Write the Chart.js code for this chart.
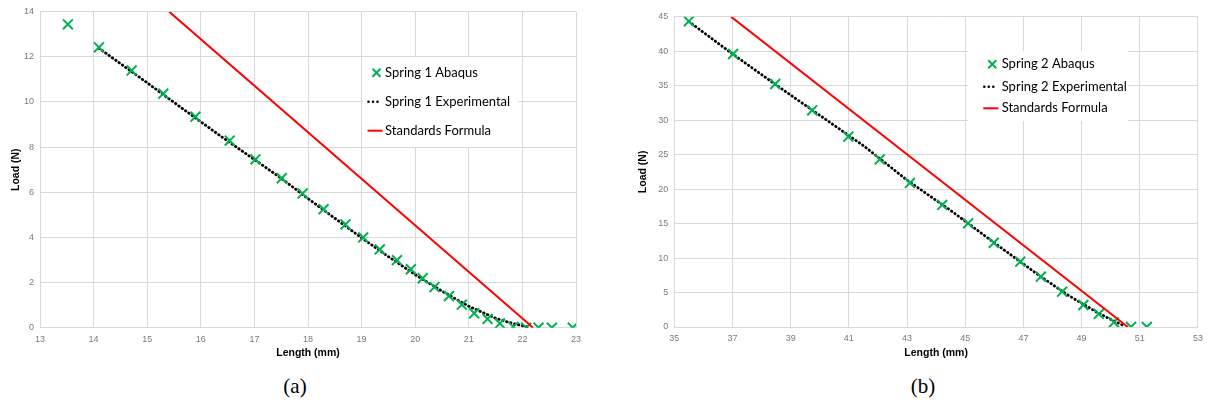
<!DOCTYPE html>
<html>
<head>
<meta charset="utf-8">
<script src="https://cdn.jsdelivr.net/npm/chart.js@4.4.0/dist/chart.umd.min.js"></script>
<style>
  body { margin: 0; background: #fff; width: 1209px; height: 405px; position: relative; overflow: hidden; }
  .wrap { position: absolute; top: 0; height: 365px; }
  .cap { position: absolute; top: 374px; font-family: "Liberation Serif", serif; font-size: 21px; color: #000; transform: translateX(-50%); }
</style>
</head>
<body>
<div class="wrap" style="left:0;width:600px"><canvas id="chartA"></canvas></div>
<div class="wrap" style="left:610px;width:599px"><canvas id="chartB"></canvas></div>
<div class="cap" style="left:295px">(a)</div>
<div class="cap" style="left:923px">(b)</div>
<script>
// Spring 1 (a)
const abaqus1X = [13.52, 14.10, 14.71, 15.30, 15.90, 16.54, 17.02, 17.51, 17.90, 18.29, 18.70, 19.03, 19.34, 19.66, 19.92, 20.14, 20.36, 20.63, 20.87, 21.10, 21.35, 21.58, 21.83, 22.07, 22.30, 22.55, 22.94];
const abaqus1Y = [13.44, 12.42, 11.40, 10.37, 9.35, 8.29, 7.46, 6.62, 5.95, 5.25, 4.58, 4.00, 3.47, 2.99, 2.59, 2.19, 1.80, 1.40, 1.02, 0.64, 0.39, 0.19, 0.04, 0, 0, 0, 0];
const exp1X = [14.10, 14.5, 15.0, 15.5, 16.0, 16.5, 17.0, 17.5, 18.0, 18.5, 19.0, 19.5, 20.0, 20.5, 21.0, 21.5, 21.8, 22.1];
const exp1Y = [12.38, 11.70, 10.85, 9.98, 9.12, 8.27, 7.45, 6.62, 5.72, 4.85, 3.98, 3.15, 2.35, 1.62, 0.95, 0.42, 0.20, 0.03];
const std1X = [15.41, 22.20];
const std1Y = [14, 0];

// Spring 2 (b)
const abaqus2X = [35.50, 37.02, 38.47, 39.74, 40.98, 42.06, 43.10, 44.21, 45.10, 45.98, 46.89, 47.60, 48.33, 49.06, 49.59, 50.11, 50.70, 51.24];
const abaqus2Y = [44.33, 39.59, 35.24, 31.42, 27.60, 24.30, 20.90, 17.70, 15.04, 12.22, 9.47, 7.30, 5.12, 3.19, 1.89, 0.68, 0, 0];
const exp2X = [35.5, 37.0, 38.5, 40.0, 41.5, 43.0, 44.5, 46.0, 47.5, 48.5, 49.5, 50.0, 50.5];
const exp2Y = [44.3, 39.6, 35.1, 30.7, 26.3, 21.3, 16.9, 12.2, 7.6, 4.7, 2.2, 1.1, 0.1];
const std2X = [36.95, 50.59];
const std2Y = [45, 0];

const GREEN = '#00B050';
const GRID = '#d9d9d9';
const TICK = '#7a7a7a';

function pts(xs, ys) {
    return xs.map((x, i) => ({ x: x, y: ys[i] }));
}

// legend drawn as a white box inside the plot area
const boxLegend = {
    id: 'boxLegend',
    afterDatasetsDraw(chart, args, opts) {
        const ctx = chart.ctx;
        const b = opts.box;
        ctx.save();
        ctx.fillStyle = '#fff';
        ctx.fillRect(b[0], b[1], b[2], b[3]);
        ctx.font = '13px Lato, "Open Sans", sans-serif';
        ctx.textBaseline = 'middle';
        chart.data.datasets.forEach((ds, i) => {
            const y = opts.rows[i];
            const x = opts.markX;
            if (i === 0) {
                ctx.strokeStyle = GREEN;
                ctx.lineWidth = 2;
                ctx.beginPath();
                ctx.moveTo(x - 4, y - 4); ctx.lineTo(x + 4, y + 4);
                ctx.moveTo(x - 4, y + 4); ctx.lineTo(x + 4, y - 4);
                ctx.stroke();
            } else if (i === 1) {
                ctx.fillStyle = '#000';
                [-8, -3.5, 1].forEach(dx => {
                    ctx.beginPath();
                    ctx.arc(x + dx, y, 1.3, 0, Math.PI * 2);
                    ctx.fill();
                });
            } else {
                ctx.strokeStyle = '#ff0000';
                ctx.lineWidth = 2;
                ctx.beginPath();
                ctx.moveTo(x - 9, y); ctx.lineTo(x + 6, y);
                ctx.stroke();
            }
            ctx.fillStyle = '#000';
            ctx.fillText(ds.label, opts.textX, y);
        });
        ctx.restore();
    }
};

function makeChart(id, cfg) {
    return new Chart(document.getElementById(id), {
        type: 'scatter',
        data: {
            datasets: [{
                label: cfg.names[0],
                data: pts(cfg.ax, cfg.ay),
                showLine: false,
                pointStyle: 'crossRot',
                pointRadius: 7,
                pointBorderWidth: 2,
                pointBorderColor: GREEN,
                pointBackgroundColor: GREEN,
                order: 1
            }, {
                label: cfg.names[1],
                data: pts(cfg.ex, cfg.ey),
                showLine: true,
                borderColor: '#000',
                borderWidth: 2.8,
                borderDash: [0.5, 3.6],
                borderCapStyle: 'round',
                pointRadius: 0,
                order: 2
            }, {
                label: cfg.names[2],
                data: pts(cfg.sx, cfg.sy),
                showLine: true,
                borderColor: '#ff0000',
                borderWidth: 2,
                pointRadius: 0,
                order: 0
            }]
        },
        options: {
            responsive: true,
            maintainAspectRatio: false,
            animation: false,
            events: [],
            layout: { padding: { top: cfg.padTop, right: cfg.padRight, left: 0, bottom: 0 } },
            scales: {
                x: {
                    type: 'linear',
                    min: cfg.xMin, max: cfg.xMax,
                    ticks: { stepSize: cfg.xStep, color: TICK, font: { size: 9, family: 'Liberation Sans' }, padding: 6 },
                    grid: { color: GRID, drawTicks: false },
                    border: { color: GRID },
                    title: { display: true, text: 'Length (mm)', color: '#000', font: { size: 10.5, weight: 'bold', family: 'Liberation Sans' }, padding: { top: 0, bottom: 6 } },
                    afterFit: s => { s.height = cfg.xH; }
                },
                y: {
                    min: 0, max: cfg.yMax,
                    ticks: { stepSize: cfg.yStep, color: TICK, font: { size: 9, family: 'Liberation Sans' }, padding: 6 },
                    grid: { color: GRID, drawTicks: false },
                    border: { color: GRID },
                    title: { display: true, text: 'Load (N)', color: '#000', font: { size: 10.5, weight: 'bold', family: 'Liberation Sans' }, padding: { top: cfg.yTitlePad, bottom: 0 } },
                    afterFit: s => { s.width = cfg.yW; }
                }
            },
            plugins: {
                legend: { display: false },
                tooltip: { enabled: false },
                boxLegend: cfg.legend
            }
        },
        plugins: [boxLegend]
    });
}

makeChart('chartA', {
    names: ['Spring 1 Abaqus', 'Spring 1 Experimental', 'Standards Formula'],
    ax: abaqus1X, ay: abaqus1Y, ex: exp1X, ey: exp1Y, sx: std1X, sy: std1Y,
    xMin: 13, xMax: 23, xStep: 1, yMax: 14, yStep: 2,
    padTop: 11.7, padRight: 24, xH: 37.3, yW: 40, yTitlePad: 10,
    legend: { box: [363, 57, 155, 90], rows: [72.7, 101.7, 130.7], markX: 376.5, textX: 385 }
});

makeChart('chartB', {
    names: ['Spring 2 Abaqus', 'Spring 2 Experimental', 'Standards Formula'],
    ax: abaqus2X, ay: abaqus2Y, ex: exp2X, ey: exp2Y, sx: std2X, sy: std2Y,
    xMin: 35, xMax: 53, xStep: 2, yMax: 45, yStep: 5,
    padTop: 16.7, padRight: 5.7, xH: 38, yW: 64.3, yTitlePad: 27,
    legend: { box: [358, 51, 160, 70], rows: [64.3, 86.7, 108.3], markX: 382.3, textX: 391.7 }
});
</script>
</body>
</html>
